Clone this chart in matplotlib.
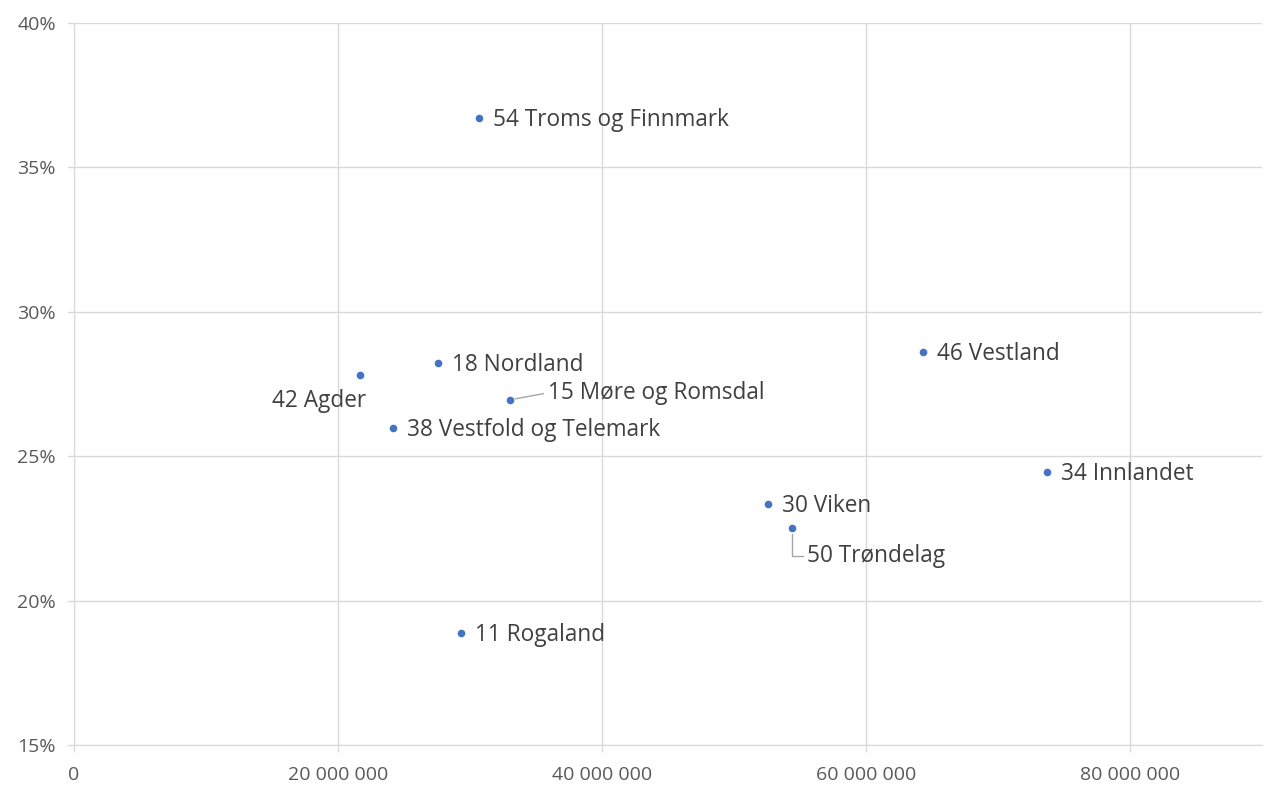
import matplotlib
matplotlib.use('Agg')
import matplotlib.pyplot as plt
from matplotlib.ticker import FuncFormatter, MultipleLocator

# ── data ──
labels = ['54 Troms og Finnmark', '18 Nordland', '42 Agder', '15 Møre og Romsdal',
          '38 Vestfold og Telemark', '46 Vestland', '34 Innlandet', '30 Viken',
          '50 Trøndelag', '11 Rogaland']
x_vals = [30.7e6, 27.6e6, 21.7e6, 33.0e6, 24.2e6, 64.3e6, 73.7e6, 52.6e6, 54.4e6, 29.3e6]
y_vals = [0.3671, 0.2823, 0.2781, 0.2695, 0.2598, 0.2861, 0.2445, 0.2334, 0.2251, 0.1888]

# label placement: (dx, dy) in pixels, ha, leader style
placement = {
    '42 Agder': ((6, -26), 'right', None),
    '15 Møre og Romsdal': ((38, 7), 'left', 'arc3'),
    '50 Trøndelag': ((15, -28), 'left', 'angle,angleA=0,angleB=90,rad=0'),
}

POINT = '#4472C4'
TEXT = '#404040'
TICK = '#595959'
GRID = '#D9D9D9'

plt.rcParams['font.family'] = ['Open Sans', 'DejaVu Sans']

fig = plt.figure(figsize=(12.65, 7.92), dpi=100)
ax = fig.add_axes([74 / 1265, 1 - 745 / 792, (1262 - 74) / 1265, (745 - 23) / 792])

ax.scatter(x_vals, y_vals, s=30, color=POINT, zorder=3, linewidths=0)

for name, x, y in zip(labels, x_vals, y_vals):
    (dx, dy), ha, conn = placement.get(name, ((14, -2), 'left', None))
    kw = {}
    if conn:
        kw['arrowprops'] = dict(arrowstyle='-', color='#A6A6A6', lw=1,
                                shrinkA=1, shrinkB=4, relpos=(0, 0.5),
                                connectionstyle=conn)
    ax.annotate(name, (x, y), xytext=(dx, dy), textcoords='offset pixels',
                ha=ha, va='center', fontsize=16.3, color=TEXT, **kw)

ax.set_xlim(0, 90e6)
ax.set_ylim(0.15, 0.40)
ax.xaxis.set_major_locator(MultipleLocator(20e6))
ax.yaxis.set_major_locator(MultipleLocator(0.05))
ax.xaxis.set_major_formatter(FuncFormatter(lambda v, p: f'{v:,.0f}'.replace(',', ' ')))
ax.yaxis.set_major_formatter(FuncFormatter(lambda v, p: f'{v * 100:.0f}%'))

ax.grid(True, color=GRID, lw=1)
ax.set_axisbelow(True)
for s in ['top', 'right']:
    ax.spines[s].set_visible(False)
for s in ['left', 'bottom']:
    ax.spines[s].set_color(GRID)
ax.tick_params(colors=GRID, labelcolor=TICK, labelsize=14, length=5, width=1)
ax.tick_params(axis='x', pad=10)
ax.tick_params(axis='y', pad=8)

fig.savefig('out.png', dpi=100, facecolor='white')
